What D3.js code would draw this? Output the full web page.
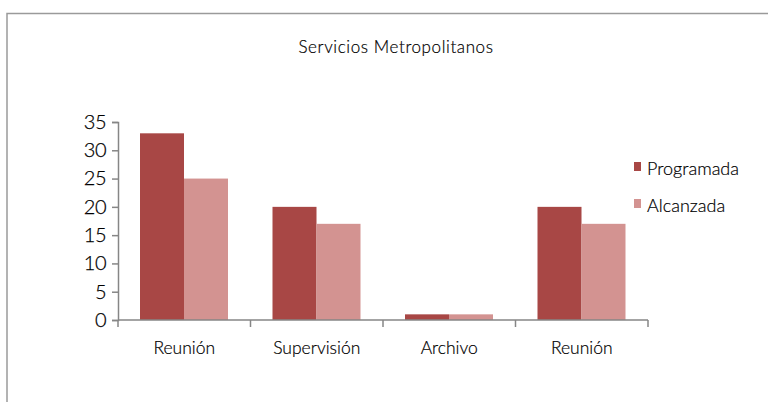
<!DOCTYPE html>
<html><head><meta charset="utf-8">
<script src="https://cdn.jsdelivr.net/npm/d3@7"></script>
<style>body{margin:0;background:#fff}svg{display:block}text{font-family:Lato,"Open Sans",sans-serif;font-weight:300;fill:#000}</style>
</head><body><svg id="c" width="768" height="402"></svg>
<script>
const categories = ["Reunión","Supervisión","Archivo","Reunión "];
const programada = [33,20,1,20];
const alcanzada = [25,17,1,17];
const seriesNames = ["Programada","Alcanzada"];
const yTicks = [0,5,10,15,20,25,30,35];
const colors = ["#A84745","#D39391"];
const FONT = "Lato,'Open Sans',sans-serif";

const svg = d3.select("#c");
svg.append("path").attr("d","M7,402 V13.5 H768").attr("fill","none").attr("stroke","#9a9a9a").attr("stroke-width",1.5);

svg.append("text").attr("x",396).attr("y",53).attr("text-anchor","middle").attr("font-size",17)
 .attr("letter-spacing",0.6).attr("stroke","#000").attr("stroke-width",0.2).text("Servicios Metropolitanos");

const x0 = d3.scaleBand().domain(categories).range([118,648]).paddingInner(0).paddingOuter(0);
const x1 = d3.scaleBand().domain(seriesNames).range([22, x0.bandwidth()-22.5]);
const y = d3.scaleLinear().domain([0,35]).range([320,122]);

const data = categories.map((c,i)=>({c, vals:[programada[i],alcanzada[i]]}));
svg.append("g").selectAll("g.cat").data(data).join("g").attr("transform",d=>`translate(${x0(d.c)},0)`)
 .selectAll("rect").data(d=>d.vals.map((v,j)=>({v,j}))).join("rect")
 .attr("x",d=>x1(seriesNames[d.j])).attr("width",x1.bandwidth())
 .attr("y",d=>y(d.v)).attr("height",d=>y(0)-y(d.v)).attr("fill",d=>colors[d.j]);

const ya = svg.append("g").attr("transform","translate(118,0)")
 .call(d3.axisLeft(y).tickValues(yTicks).tickSize(6).tickPadding(6));
ya.select(".domain").attr("stroke","#868686").attr("stroke-width",1.5);
ya.selectAll(".tick line").attr("stroke","#868686").attr("stroke-width",1.5);
ya.selectAll(".tick text").attr("font-size",20).attr("fill","#000").attr("font-family",FONT).attr("letter-spacing",-0.5)
 .attr("stroke","#000").attr("stroke-width",0.25);

const xa = svg.append("g").attr("transform","translate(0,320)")
 .call(d3.axisBottom(x0).tickSize(0).tickPadding(22));
xa.select(".domain").remove();
xa.selectAll(".tick text").attr("font-size",17.5).attr("fill","#000").attr("font-family",FONT)
 .attr("stroke","#000").attr("stroke-width",0.2);
svg.append("line").attr("x1",118).attr("x2",648).attr("y1",320).attr("y2",320).attr("stroke","#868686").attr("stroke-width",1.5);
const edges = categories.map(c=>x0(c)).concat([x0.range()[1]]);
svg.selectAll("line.xt").data(edges).join("line").attr("class","xt")
 .attr("x1",d=>d).attr("x2",d=>d).attr("y1",320).attr("y2",327).attr("stroke","#868686").attr("stroke-width",1.5);

const leg = svg.append("g").selectAll("g").data(seriesNames).join("g")
 .attr("transform",(d,i)=>`translate(634,${162+i*37})`);
leg.append("rect").attr("width",7).attr("height",9).attr("fill",(d,i)=>colors[i]);
leg.append("text").attr("x",13).attr("y",13).attr("font-size",18).attr("stroke","#000").attr("stroke-width",0.2).text(d=>d);
</script></body></html>
